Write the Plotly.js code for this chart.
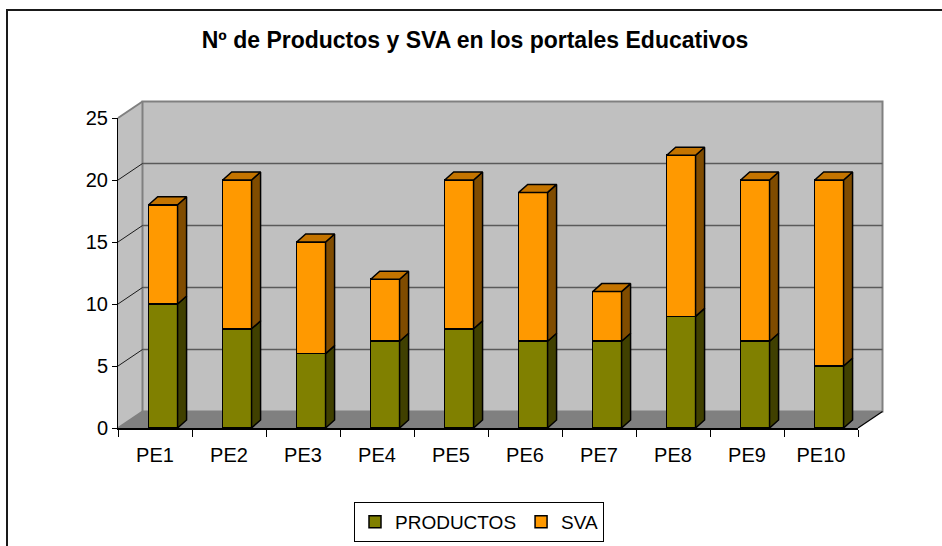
<!DOCTYPE html>
<html>
<head>
<meta charset="utf-8">
<script src="https://cdn.plot.ly/plotly-3.0.1.min.js"></script>
<style>html,body{margin:0;padding:0;background:#fff;}#chart{width:942px;height:546px;}</style>
</head>
<body>
<div id="chart"></div>
<script>
// ---- data ----
const categories = ["PE1","PE2","PE3","PE4","PE5","PE6","PE7","PE8","PE9","PE10"];
const productos  = [10, 8, 6, 7, 8, 7, 7, 9, 7, 5];
const sva        = [ 8,12, 9, 5,12,12, 4,13,13,15];
const yTicks     = [0, 5, 10, 15, 20, 25];
const titleText  = "Nº de Productos y SVA en los portales Educativos";

// ---- style / geometry constants ----
const FONT = "Liberation Sans, Arial, sans-serif";
const W = 942, H = 546;
const mL = 118, mR = 84, mT = 118, mB = 118;
const plotW = W - mL - mR, plotH = H - mT - mB;
const nCat = categories.length;
const yMax = 25;
const barW = 0.39, barOff = -0.085;       // front face in category units
const dX = 9 / (plotW / nCat);              // bar depth (x units)
const dY = 8 / (plotH / yMax);              // bar depth (y units)
const wX = 24.5 / plotW, wY = 16.5 / plotH; // wall depth in paper units

const idx = categories.map((_, i) => i);
const totals = productos.map((p, i) => p + sva[i]);

// side / top faces built from data
function sidePoly(y0s, y1s) {
  const xs = [], ys = [];
  idx.forEach(i => {
    const x1 = i + barOff + barW;
    xs.push(x1, x1 + dX, x1 + dX, x1, x1, null);
    ys.push(y0s[i], y0s[i] + dY, y1s[i] + dY, y1s[i], y0s[i], null);
  });
  return {xs, ys};
}
function topPoly(ys0) {
  const xs = [], ys = [];
  idx.forEach(i => {
    const x0 = i + barOff, x1 = x0 + barW, t = ys0[i];
    xs.push(x0, x0 + dX, x1 + dX, x1, x0, null);
    ys.push(t, t + dY, t + dY, t, t, null);
  });
  return {xs, ys};
}
const zeros = idx.map(() => 0);
const sideP = sidePoly(zeros, productos);
const sideS = sidePoly(productos, totals);
const topS = topPoly(totals);

const edge = {color: "#000", width: 1.5};
const traces = [
  {type: "bar", name: "PRODUCTOS", x: idx, y: productos, width: barW, offset: barOff,
   marker: {color: "#808000", line: edge}, hoverinfo: "skip"},
  {type: "bar", name: "SVA", x: idx, y: sva, width: barW, offset: barOff,
   marker: {color: "#FF9900", line: edge}, hoverinfo: "skip"},
  {type: "scatter", mode: "lines", x: sideP.xs, y: sideP.ys, fill: "toself",
   fillcolor: "#404000", line: edge, showlegend: false, hoverinfo: "skip"},
  {type: "scatter", mode: "lines", x: sideS.xs, y: sideS.ys, fill: "toself",
   fillcolor: "#804C00", line: edge, showlegend: false, hoverinfo: "skip"},
  {type: "scatter", mode: "lines", x: topS.xs, y: topS.ys, fill: "toself",
   fillcolor: "#C47400", line: edge, showlegend: false, hoverinfo: "skip"}
];

// ---- decorative walls (paper coords) ----
const shapes = [];
// side wall
shapes.push({type: "path", xref: "paper", yref: "paper", layer: "below",
  path: `M0,0 L${wX},${wY} L${wX},${1 + wY} L0,1 Z`,
  fillcolor: "#C0C0C0", line: {width: 0}});
// back wall
shapes.push({type: "rect", xref: "paper", yref: "paper", layer: "below",
  x0: wX, x1: 1 + wX, y0: wY, y1: 1 + wY,
  fillcolor: "#C0C0C0", line: {color: "#808080", width: 2}});
// back-wall gridlines
yTicks.filter(v => v > 0 && v < yMax).forEach(v => {
  shapes.push({type: "line", xref: "paper", yref: "paper", layer: "below",
    x0: wX, x1: 1 + wX, y0: v / yMax + wY, y1: v / yMax + wY,
    line: {color: "#5A5A5A", width: 1.5}});
});
// side-wall diagonals
yTicks.forEach(v => {
  const edgeLine = (v === 0 || v === yMax);
  shapes.push({type: "line", xref: "paper", yref: "paper", layer: "below",
    x0: 0, x1: wX, y0: v / yMax, y1: v / yMax + wY,
    line: {color: edgeLine ? "#808080" : "#1A1A1A", width: edgeLine ? 2 : 1}});
});
// floor
shapes.push({type: "path", xref: "paper", yref: "paper", layer: "below",
  path: `M0,0 L1,0 L${1 + wX},${wY} L${wX},${wY} Z`,
  fillcolor: "#808080", line: {width: 0}});
// floor right edge
shapes.push({type: "line", xref: "paper", yref: "paper", layer: "above",
  x0: 1, x1: 1 + wX, y0: 0, y1: wY, line: {color: "#000", width: 1.2}});
// outer chart frame
shapes.push({type: "rect", xref: "paper", yref: "paper", layer: "above",
  x0: (7 - mL) / plotW, x1: (960 - mL) / plotW,
  y0: -(600 - (H - mB)) / plotH, y1: ((H - mB) - 10) / plotH,
  line: {color: "#1A1A1A", width: 2}, fillcolor: "rgba(0,0,0,0)"});

const layout = {
  width: W, height: H,
  margin: {l: mL, r: mR, t: mT, b: mB, pad: 0},
  paper_bgcolor: "#FFFFFF", plot_bgcolor: "rgba(0,0,0,0)",
  barmode: "stack", bargap: 0,
  showlegend: true,
  font: {family: FONT, size: 20, color: "#000"},
  title: {text: "<b>" + titleText + "</b>", font: {family: FONT, size: 23, color: "#000"},
          xref: "container", yref: "container", x: 475 / W, xanchor: "center",
          y: 1 - 40 / H, yanchor: "middle"},
  xaxis: {range: [-0.5, nCat - 0.5], tickmode: "array", tickvals: idx, ticktext: categories,
          ticks: "", showgrid: false, zeroline: false, showline: true,
          linecolor: "#000", linewidth: 1.5, ticklabelstandoff: 8,
          tickfont: {family: FONT, size: 20, color: "#000"},
          minor: {tickmode: "array", tickvals: idx.map(i => i - 0.5).concat([nCat - 0.5]),
                  ticks: "outside", ticklen: 7, tickcolor: "#000", tickwidth: 1, showgrid: false},
          fixedrange: true, automargin: false},
  yaxis: {range: [0, yMax], tickmode: "array", tickvals: yTicks,
          ticks: "outside", ticklen: 5, tickcolor: "#000", tickwidth: 1,
          showgrid: false, zeroline: false, showline: true, linecolor: "#000", linewidth: 1,
          tickfont: {family: FONT, size: 20, color: "#000"}, fixedrange: true, automargin: false},
  legend: {orientation: "h", xref: "container", yref: "container",
           x: 479 / W, xanchor: "center",
           y: 1 - 502 / H, yanchor: "top",
           bordercolor: "#000", borderwidth: 1, bgcolor: "#FFFFFF",
           font: {family: FONT, size: 19, color: "#000"}, traceorder: "normal"},
  shapes: shapes
};

Plotly.newPlot("chart", traces, layout, {displayModeBar: false, staticPlot: true});
</script>
</body>
</html>
